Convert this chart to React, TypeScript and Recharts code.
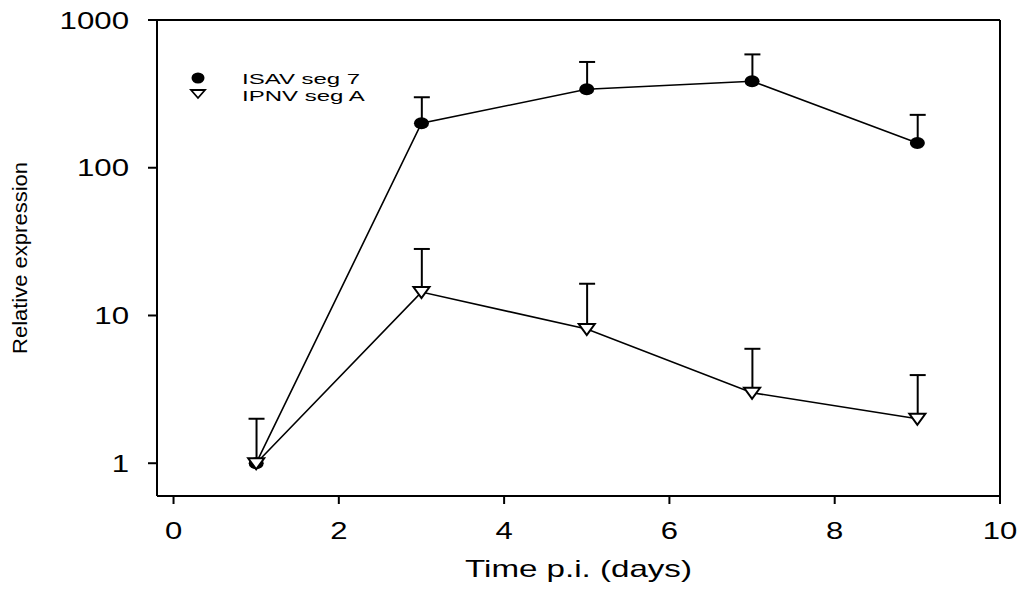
import React from 'react';
import {
  ComposedChart,
  Line,
  Bar,
  XAxis,
  YAxis,
  ReferenceLine,
  Legend,
} from 'recharts';

const days = [1, 3, 5, 7, 9];
const isavMean = [1, 200, 340, 385, 147];
const isavUpper = [null, 300, 520, 585, 228];
const ipnvMean = [1, 14.4, 8.1, 3.0, 2.0];
const ipnvUpper = [2, 28.2, 16.4, 5.95, 3.95];
const xTicks = [0, 2, 4, 6, 8, 10];
const yTicks = [1, 10, 100, 1000];

const data = days.map((d, i) => ({
  day: d,
  isav: isavMean[i],
  ipnv: ipnvMean[i],
  isavErr: isavUpper[i] == null ? null : [isavMean[i], isavUpper[i]],
  ipnvErr: ipnvUpper[i] == null ? null : [ipnvMean[i], ipnvUpper[i]],
}));

const FONT = '"Liberation Sans", Arial, Helvetica, sans-serif';
const axisStroke = { stroke: '#000', strokeWidth: 2 };

const ErrShape = (props: any) => {
  const { x, y, width, height } = props;
  if (x == null || y == null) return <g />;
  const cx = x + width / 2;
  const top = Math.min(y, y + height);
  const bottom = Math.max(y, y + height);
  return (
    <g stroke="#000" strokeWidth={2}>
      <line x1={cx} y1={top} x2={cx} y2={bottom} />
      <line x1={cx - 8} y1={top} x2={cx + 8} y2={top} />
    </g>
  );
};

const CircleDot = (props: any) => {
  const { cx, cy } = props;
  return <ellipse cx={cx} cy={cy} rx={7.5} ry={6} fill="#000" />;
};

const TriDot = (props: any) => {
  const { cx, cy } = props;
  return (
    <path
      d={`M${cx - 8},${cy - 5} L${cx + 8},${cy - 5} L${cx},${cy + 6} Z`}
      fill="#fff"
      stroke="#000"
      strokeWidth={2}
      strokeLinejoin="miter"
    />
  );
};

const YTick = (props: any) => {
  const { x, y, payload } = props;
  return (
    <g transform={`translate(${x},${y}) scale(1.3,1)`}>
      <text x={0} y={0} dy="0.36em" textAnchor="end" fontSize={24} fontFamily={FONT} fill="#000">
        {payload.value}
      </text>
    </g>
  );
};

const XTick = (props: any) => {
  const { x, y, payload } = props;
  return (
    <g transform={`translate(${x},${y}) scale(1.35,1)`}>
      <text x={0} y={0} dy="0.72em" textAnchor="middle" fontSize={23} fontFamily={FONT} fill="#000">
        {payload.value}
      </text>
    </g>
  );
};

const XTitle = (props: any) => {
  const vb = props.viewBox || { x: 157, y: 496, width: 843, height: 94 };
  return (
    <g transform={`translate(${vb.x + vb.width / 2},${vb.y + 81}) scale(1.38,1)`}>
      <text x={0} y={0} textAnchor="middle" fontSize={24} fontFamily={FONT} fill="#000">
        Time p.i. (days)
      </text>
    </g>
  );
};

const YTitle = (props: any) => {
  const vb = props.viewBox || { x: 0, y: 20, width: 157, height: 476 };
  return (
    <g transform={`translate(${vb.x + 27},${vb.y + vb.height / 2}) rotate(-90)`}>
      <text
        x={0}
        y={0}
        textAnchor="middle"
        fontSize={20}
        fontFamily={FONT}
        fill="#000"
        textLength={192}
        lengthAdjust="spacingAndGlyphs"
      >
        Relative expression
      </text>
    </g>
  );
};

// legend sits inside the plot, top-left
const LegendBox = () => (
  <svg width={200} height={44} style={{ display: 'block' }}>
    <ellipse cx={13} cy={12} rx={6.5} ry={5.5} fill="#000" />
    <path d="M6,24 L20,24 L13,32 Z" fill="#fff" stroke="#000" strokeWidth={1.8} />
    <g transform="translate(57,17.5) scale(1.6,1)">
      <text x={0} y={0} fontSize={15} fontFamily={FONT} fill="#000">ISAV seg 7</text>
    </g>
    <g transform="translate(57,35) scale(1.6,1)">
      <text x={0} y={0} fontSize={15} fontFamily={FONT} fill="#000">IPNV seg A</text>
    </g>
  </svg>
);

export default function App() {
  return (
    <div style={{ position: 'absolute', left: 0, top: 0, background: '#fff' }}>
      <ComposedChart
        width={1021}
        height={590}
        data={data}
        margin={{ top: 20, right: 21, bottom: 0, left: 0 }}
        barGap={-16}
      >
        <XAxis
          dataKey="day"
          type="number"
          domain={[-0.2, 10]}
          ticks={xTicks}
          allowDataOverflow
          height={94}
          tickSize={8}
          tickMargin={18}
          tick={<XTick />}
          axisLine={axisStroke}
          tickLine={axisStroke}
          label={{ content: (p: any) => <XTitle {...p} /> }}
        />
        <YAxis
          scale="log"
          type="number"
          domain={[0.6, 1000]}
          ticks={yTicks}
          allowDataOverflow
          width={157}
          tickSize={9}
          tickMargin={19}
          tick={<YTick />}
          axisLine={axisStroke}
          tickLine={axisStroke}
          label={{ content: (p: any) => <YTitle {...p} /> }}
        />
        <ReferenceLine y={1000} stroke="#000" strokeWidth={2} />
        <ReferenceLine x={10} stroke="#000" strokeWidth={2} />
        <Legend
          layout="vertical"
          align="center"
          verticalAlign="middle"
          wrapperStyle={{ position: 'absolute', left: 185, top: 66, width: 200, height: 44 }}
          content={() => <LegendBox />}
        />
        <Bar
          dataKey="isavErr"
          barSize={16}
          isAnimationActive={false}
          shape={(p: any) => (p.payload && p.payload.isavErr ? <ErrShape {...p} /> : <g />)}
        />
        <Bar
          dataKey="ipnvErr"
          barSize={16}
          isAnimationActive={false}
          shape={(p: any) => (p.payload && p.payload.ipnvErr ? <ErrShape {...p} /> : <g />)}
        />
        <Line
          dataKey="isav"
          type="linear"
          stroke="#000"
          strokeWidth={1.6}
          isAnimationActive={false}
          dot={(p: any) => <CircleDot key={`c${p.index}`} {...p} />}
          activeDot={false}
        />
        <Line
          dataKey="ipnv"
          type="linear"
          stroke="#000"
          strokeWidth={1.6}
          isAnimationActive={false}
          dot={(p: any) => <TriDot key={`t${p.index}`} {...p} />}
          activeDot={false}
        />
      </ComposedChart>
    </div>
  );
}
